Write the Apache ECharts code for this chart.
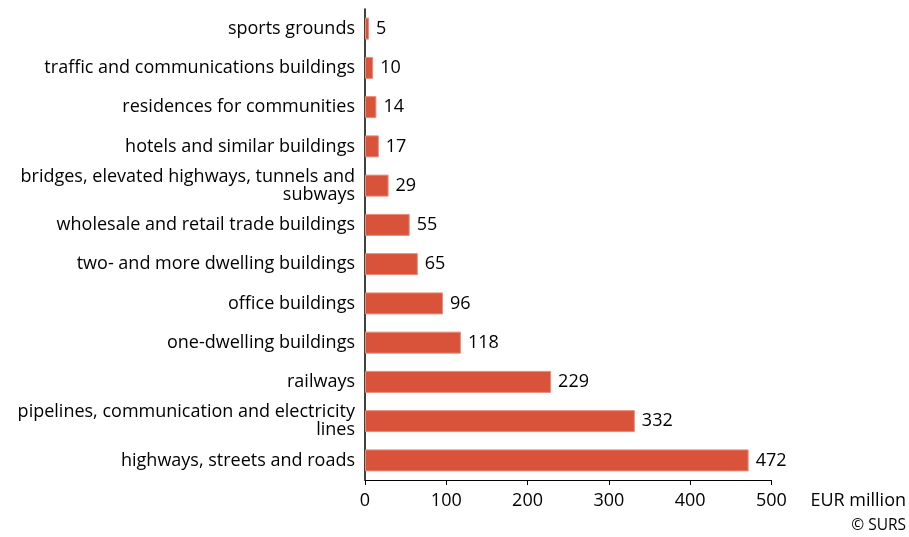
<!DOCTYPE html>
<html><head><meta charset="utf-8">
<script src="https://cdn.jsdelivr.net/npm/echarts@6/dist/echarts.min.js"></script>
<style>html,body{margin:0;padding:0;background:#fff}#c{width:909px;height:537px}</style>
</head><body><div id="c"></div>
<script>
const categories = [
  "highways, streets and roads",
  "pipelines, communication and electricity\nlines",
  "railways",
  "one-dwelling buildings",
  "office buildings",
  "two- and more dwelling buildings",
  "wholesale and retail trade buildings",
  "bridges, elevated highways, tunnels and\nsubways",
  "hotels and similar buildings",
  "residences for communities",
  "traffic and communications buildings",
  "sports grounds"
];
const values = [472, 332, 229, 118, 96, 65, 55, 29, 17, 14, 10, 5];
const xTicks = [0, 100, 200, 300, 400, 500];

const font = "Open Sans";
const chart = echarts.init(document.getElementById('c'));
chart.setOption({
  animation: false,
  grid: {left: 365, right: 136, top: 9, bottom: 57, containLabel: false},
  xAxis: {
    type: 'value', min: xTicks[0], max: xTicks[xTicks.length-1], interval: 100,
    name: 'EUR million', nameLocation: 'end', nameGap: 39,
    nameTextStyle: {color: '#000', fontFamily: font, fontSize: 18, verticalAlign: 'top', padding: [12,0,0,0]},
    axisLine: {show: true, lineStyle: {color: '#000', width: 1}},
    axisTick: {show: true, length: 5, lineStyle: {color: '#000'}},
    axisLabel: {color: '#000', fontFamily: font, fontSize: 18, margin: 12},
    splitLine: {show: false}
  },
  yAxis: {
    type: 'category', data: categories,
    axisLine: {show: true, lineStyle: {color: '#000', width: 1.5}},
    axisTick: {show: false},
    axisLabel: {color: '#000', fontFamily: font, fontSize: 18, margin: 10, lineHeight: 18, align: 'right'}
  },
  series: [{
    type: 'bar', data: values, barWidth: 22,
    itemStyle: {color: '#d9533b', borderColor: '#e98d7b', borderWidth: 1},
    label: {show: true, position: 'right', distance: 7, color: '#000', fontFamily: font, fontSize: 18}
  }],
  graphic: [{
    type: 'text', right: 3, top: 518,
    style: {text: '© SURS', fill: '#000', font: '15.5px "Open Sans"'}
  }]
});
</script></body></html>
